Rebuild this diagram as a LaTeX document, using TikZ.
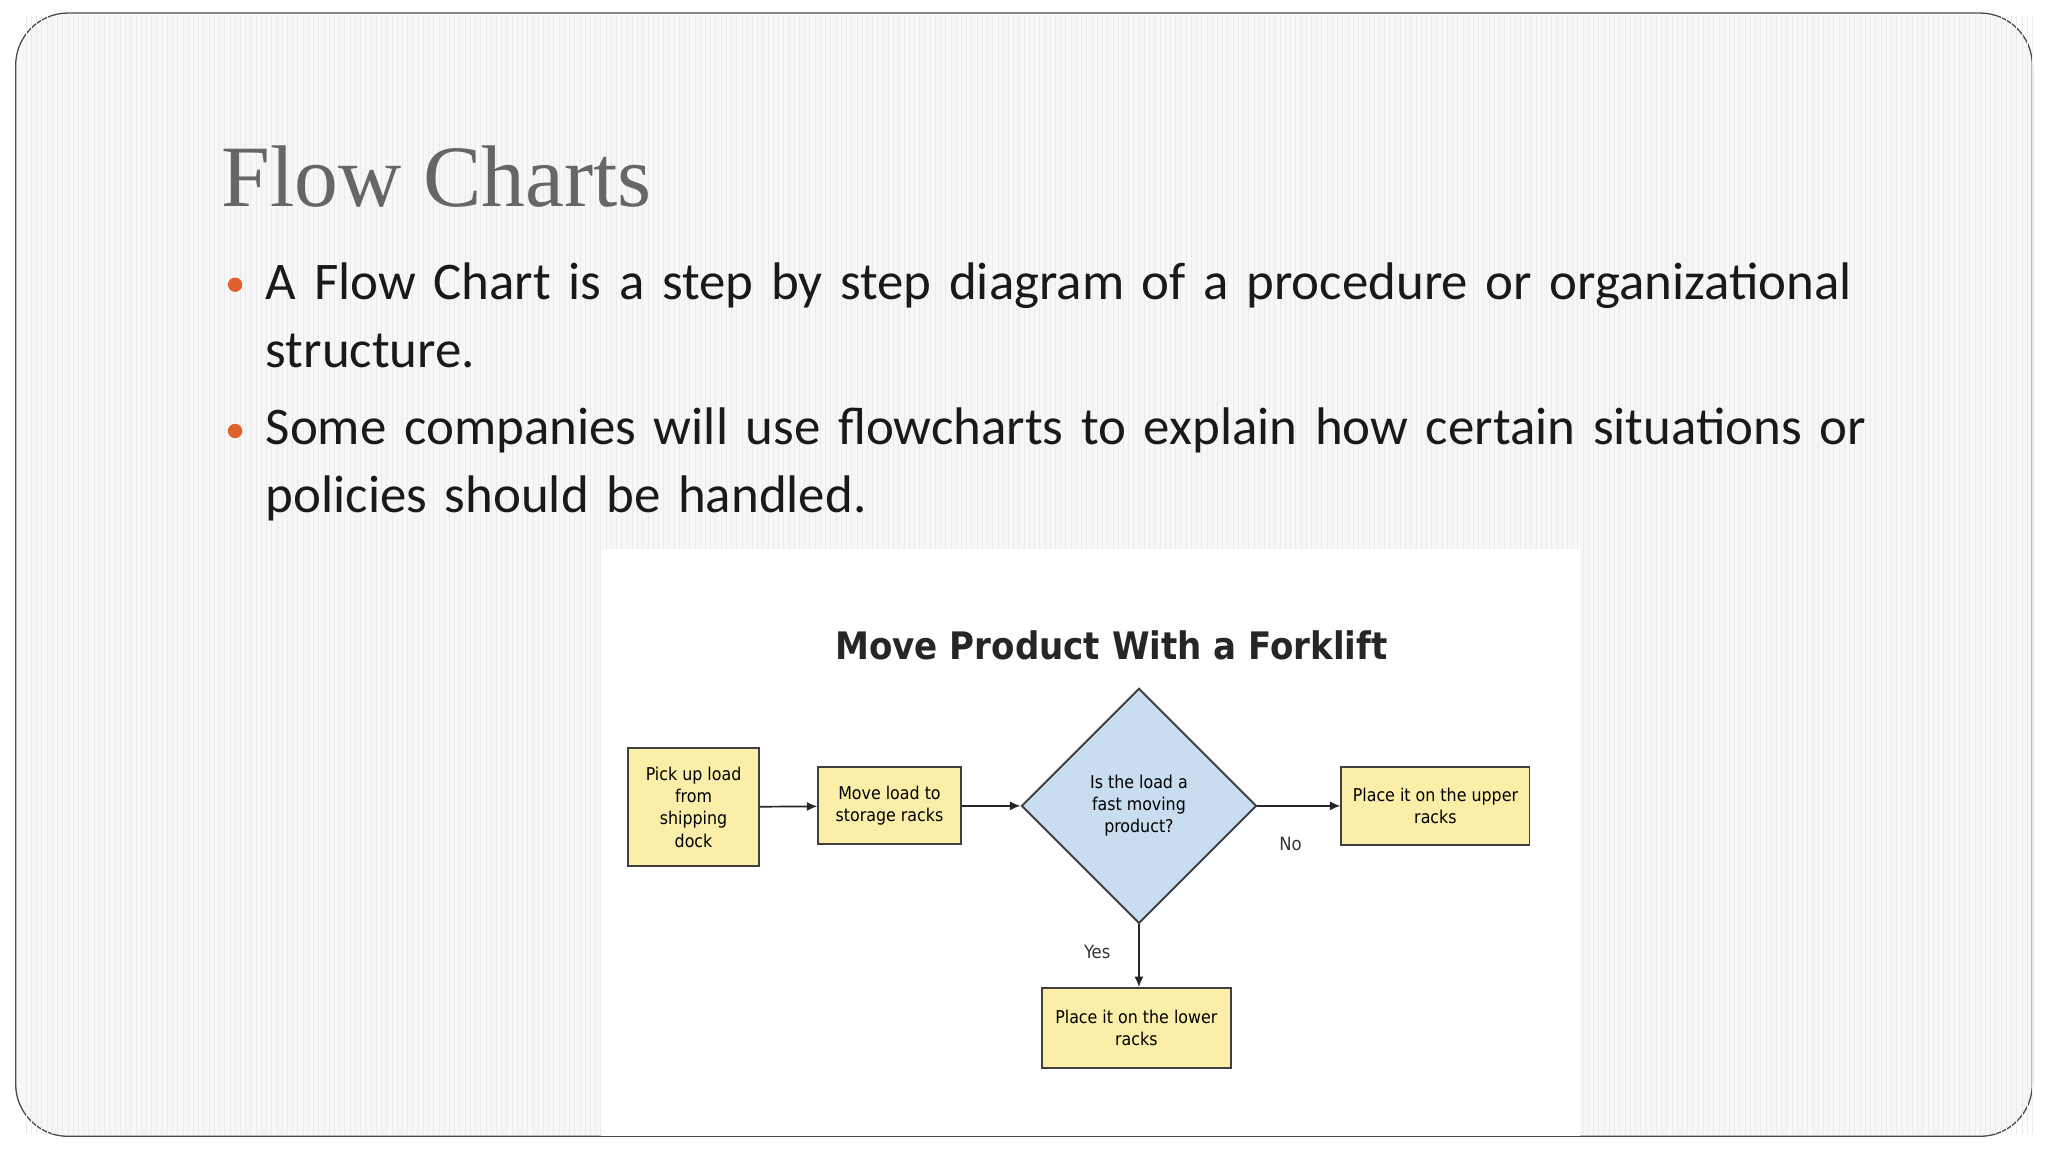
\documentclass[tikz,border=0pt]{standalone}
\usepackage{fontspec}
\setmainfont{Carlito}
\newfontfamily\titlefont{Liberation Serif}
\newfontfamily\chartfont{DejaVu Sans Condensed}
\usetikzlibrary{shapes.geometric,arrows.meta}
\definecolor{boxyel}{HTML}{FAEEA8}
\definecolor{diablue}{HTML}{C9DDF0}
\definecolor{bul}{HTML}{E0612B}
\tikzset{
 stepbox/.style={draw=black!75,line width=1.5pt,fill=boxyel,align=center,font=\chartfont\fontsize{13.5}{17}\selectfont,inner sep=2pt},
 conn/.style={draw=black!85,line width=1.3pt,-{Latex[length=8pt,width=7pt]}},
 lbl/.style={font=\chartfont\fontsize{14}{16}\selectfont,text=black!80},
 bodytext/.style={anchor=north west,align=left,text width=1262pt,font=\fontsize{40.5}{52}\selectfont,text=black!90}
}
\begin{document}
\begin{tikzpicture}[x=1pt,y=1pt]
\useasboundingbox (0,0) rectangle (1568,882);
\fill[white] (0,0) rectangle (1568,882);
\draw[black!70,line width=1pt,fill=black!3,rounded corners=40pt] (12,12) rectangle (1556,872);
\foreach \i in {0,...,384}{\draw[black!8,line width=0.5pt] (20+4*\i,14) -- (20+4*\i,870);}
\fill[white] (460,12) rectangle (1210,462);
\node[anchor=base west,text=black!60,font=\titlefont\fontsize{67}{74}\selectfont] (title) at (166,724) {Flow Charts};
\node[circle,fill=bul,inner sep=0pt,minimum size=11pt] (b1) at (180,664) {};
\node[circle,fill=bul,inner sep=0pt,minimum size=11pt] (b2) at (180,552) {};
\node[bodytext] (t1) at (200,684) {\hyphenpenalty=10000 A Flow Chart is a step by step diagram of a procedure or organizational structure.};
\node[bodytext] (t2) at (200,573) {\hyphenpenalty=10000 Some companies will use flowcharts to explain how certain situations or policies should be handled.};
\node[font=\chartfont\bfseries\fontsize{29}{32}\selectfont,text=black!85] (ct) at (851,388) {Move Product With a Forklift};
\node[stepbox,minimum width=100pt,minimum height=90pt] (a) at (531,264) {Pick up load\\from\\shipping\\dock};
\node[stepbox,minimum width=109pt,minimum height=59pt] (m) at (681,265) {Move load to\\storage racks};
\node[diamond,draw=black!75,line width=1.5pt,fill=diablue,minimum width=180pt,minimum height=180pt,inner sep=0pt,align=center,font=\chartfont\fontsize{13.5}{17}\selectfont] (d) at (872,265) {Is the load a\\fast moving\\product?};
\node[stepbox,minimum width=144pt,minimum height=60pt] (u) at (1099,265) {Place it on the upper\\racks};
\node[stepbox,minimum width=145pt,minimum height=61pt] (l) at (870,95) {Place it on the lower\\racks};
\draw[conn] (a) -- (m);
\draw[conn] (m) -- (d);
\draw[conn] (d.east) -- (u);
\draw[conn] (d.south) -- (d.south |- l.north);
\node[lbl] (no) at (988,236) {No};
\node[lbl] (yes) at (840,153) {Yes};
\end{tikzpicture}
\end{document}
